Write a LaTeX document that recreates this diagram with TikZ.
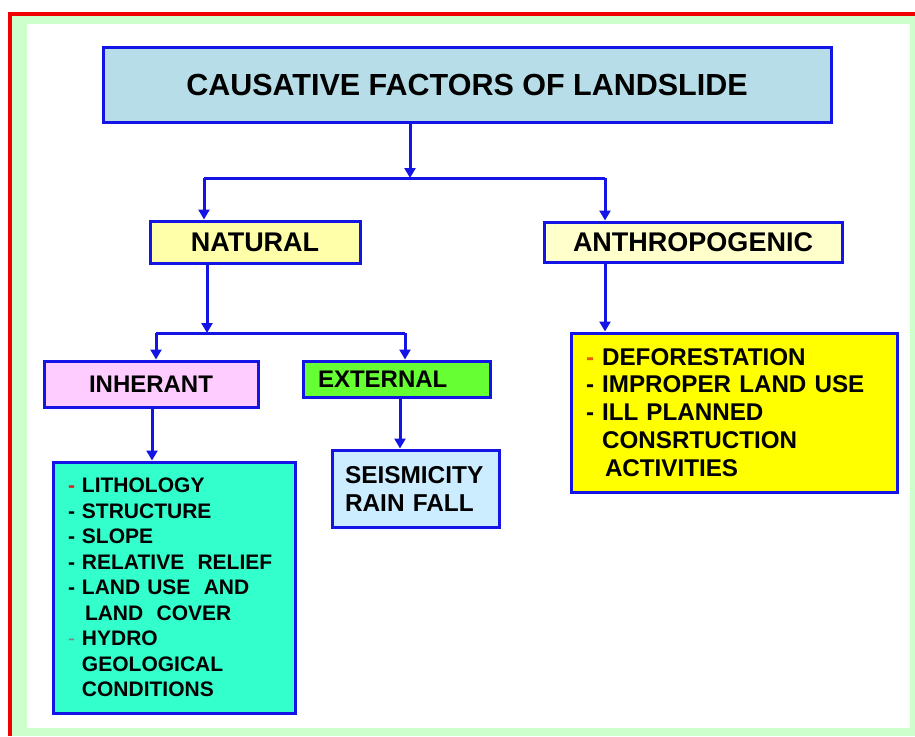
\documentclass[tikz,border=0pt]{standalone}
\usepackage{fontspec}
\setmainfont{Liberation Sans}
\usetikzlibrary{arrows.meta}
\definecolor{frameRed}{RGB}{240,0,0}
\definecolor{bandGreen}{RGB}{204,255,204}
\definecolor{boxBlue}{RGB}{20,20,230}
\definecolor{titleFill}{RGB}{183,222,232}
\definecolor{natFill}{RGB}{255,255,170}
\definecolor{anthFill}{RGB}{255,255,204}
\definecolor{inhFill}{RGB}{255,204,255}
\definecolor{extFill}{RGB}{102,255,51}
\definecolor{cyanFill}{RGB}{51,255,204}
\definecolor{seisFill}{RGB}{204,236,255}
\definecolor{listYellow}{RGB}{255,255,0}
\definecolor{dashRed}{RGB}{225,30,30}
\definecolor{dashOrange}{RGB}{230,90,0}
\begin{document}
\begin{tikzpicture}[x=1pt,y=-1pt,
  box/.style={draw=boxBlue, line width=3pt, rectangle, inner sep=0pt},
  arr/.style={draw=boxBlue, line width=3pt, -{Triangle[width=11pt,length=10pt]}},
  ln/.style={draw=boxBlue, line width=3pt}]
\useasboundingbox (0,0) rectangle (915,736);
% frame
\fill[white] (0,0) rectangle (915,736);
\fill[bandGreen] (12,15.5) rectangle (915,736);
\fill[white] (27,24) rectangle (910,728);
\draw[frameRed, line width=4pt] (10,736) -- (10,13.5) -- (915,13.5);

% nodes
\node[box, fill=titleFill, minimum width=728pt, minimum height=75pt,
      font={\bfseries\fontsize{30.5}{36}\selectfont}] (title) at (467,84.5)
      {CAUSATIVE FACTORS OF LANDSLIDE};
\node[box, fill=natFill, minimum width=210pt, minimum height=42pt,
      font={\bfseries\fontsize{27}{32}\selectfont}] (natural) at (255,242) {NATURAL};
\node[box, fill=anthFill, minimum width=298pt, minimum height=40pt,
      font={\bfseries\fontsize{27}{32}\selectfont}] (anthro) at (693,242) {ANTHROPOGENIC};
\node[box, fill=inhFill, minimum width=214pt, minimum height=46pt,
      font={\bfseries\fontsize{24}{28}\selectfont}] (inherant) at (151,384) {INHERANT};
\node[box, fill=extFill, minimum height=36pt, text width=157pt, inner xsep=15pt, align=left,
      font={\bfseries\fontsize{24}{28}\selectfont}] (external) at (396.5,379) {EXTERNAL};
\node[box, fill=cyanFill, minimum height=251pt, text width=212pt, inner xsep=15pt, align=left,
      font={\bfseries\fontsize{21}{25.5}\selectfont}] (inhlist) at (174,587.5)
      {\textcolor{dashRed}{-} LITHOLOGY\\
       - STRUCTURE\\
       - SLOPE\\
       - RELATIVE\hspace{0.3em} RELIEF\\
       - LAND USE\hspace{0.3em} AND\\
       \hspace*{17pt}LAND\hspace{0.3em} COVER\\
       {\mdseries\textcolor{gray}{-}} HYDRO\\
       \hphantom{- }GEOLOGICAL\\
       \hphantom{- }CONDITIONS};
\node[box, fill=seisFill, minimum height=77pt, text width=141pt, inner xsep=13pt, align=left,
      font={\bfseries\fontsize{24.4}{28}\selectfont}] (seis) at (415.5,488.5)
      {SEISMICITY\\RAIN FALL};
\node[box, fill=listYellow, minimum height=159pt, text width=296pt, inner xsep=15pt, align=left,
      font={\bfseries\fontsize{24.2}{27.9}\selectfont}] (anthlist) at (734,412.5)
      {\textcolor{dashOrange}{-} DEFORESTATION\\
       - IMPROPER LAND USE\\
       - ILL PLANNED\\
       \hphantom{- }CONSRTUCTION\\
       \hspace*{19pt}ACTIVITIES};

% junction coordinates
\coordinate (j1) at (410,178);
\coordinate (j1l) at (204,178);
\coordinate (j1r) at (605,178);
\coordinate (j2) at (207,333);
\coordinate (j2l) at (156,333);
\coordinate (j2r) at (405,333);

% connectors
\draw[arr] (title.south -| j1) -- (j1);
\draw[ln] (j1l) -- (j1r);
\draw[arr] (j1l) -- (j1l |- natural.north);
\draw[arr] (j1r) -- (j1r |- anthro.north);
\draw[arr] (natural.south -| j2) -- (j2);
\draw[ln] (j2l) -- (j2r);
\draw[arr] (j2l) -- (j2l |- inherant.north);
\draw[arr] (j2r) -- (j2r |- external.north);
\draw[arr] (inherant.south -| 152,0) -- (inhlist.north -| 152,0);
\draw[arr] (external.south -| 400,0) -- (seis.north -| 400,0);
\draw[arr] (anthro.south -| 605,0) -- (anthlist.north -| 605,0);
\end{tikzpicture}
\end{document}
